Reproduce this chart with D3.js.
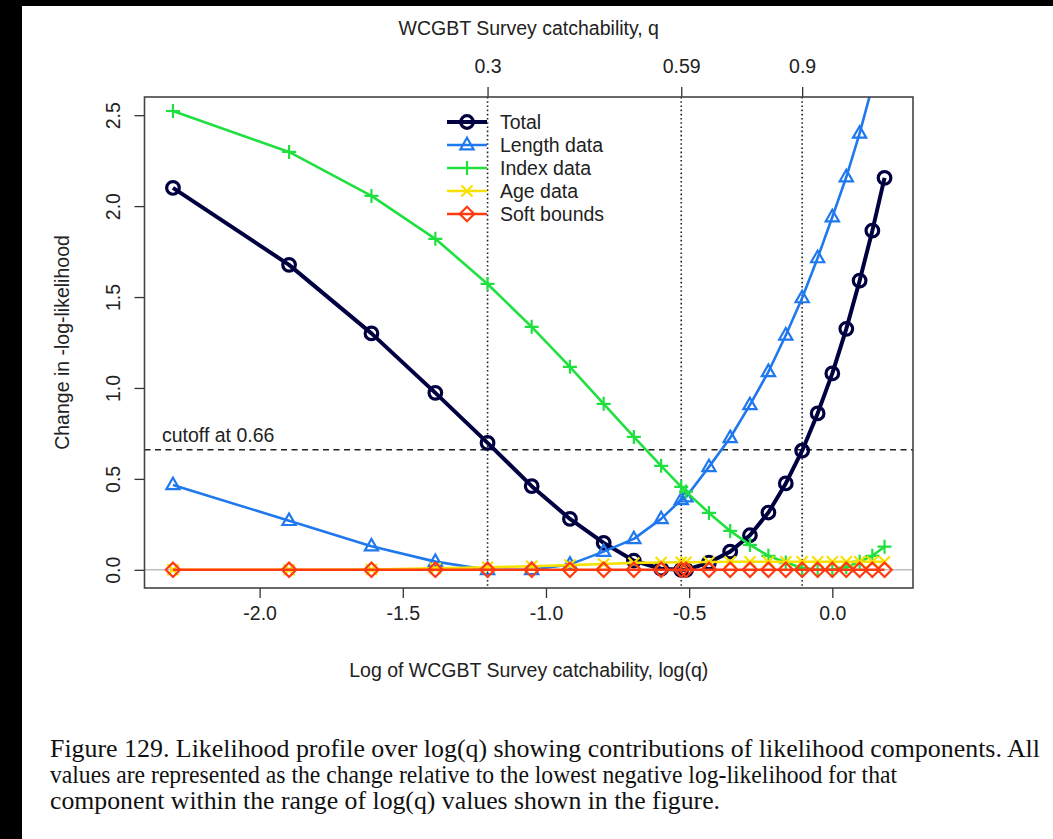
<!DOCTYPE html>
<html>
<head>
<meta charset="utf-8">
<script src="https://cdn.jsdelivr.net/npm/d3@7"></script>
<style>
  body { margin: 0; background: #fff; }
  svg { display: block; }
</style>
</head>
<body>
<svg id="chart" width="1053" height="839"></svg>
<script>
// Profile grid of survey catchability q
const qValues = [0.1, 0.15, 0.2, 0.25, 0.3, 0.35, 0.4, 0.45, 0.5, 0.55, 0.59, 0.6,
                 0.65, 0.7, 0.75, 0.8, 0.85, 0.9, 0.95, 1.0, 1.05, 1.1, 1.15, 1.2];

// Change in -log-likelihood for each component
const totalLike  = [2.10, 1.677, 1.30, 0.973, 0.698, 0.46, 0.28, 0.148, 0.05, 0.006, 0.0, 0.0,
                    0.04, 0.10, 0.19, 0.315, 0.475, 0.655, 0.86, 1.08, 1.325, 1.59, 1.865, 2.155];
const lengthLike = [0.467, 0.27, 0.13, 0.045, 0.0, 0.0, 0.03, 0.10, 0.17, 0.28, 0.385, 0.40,
                    0.566, 0.726, 0.907, 1.089, 1.29, 1.495, 1.715, 1.94, 2.16, 2.40, 2.66, 2.93];
const indexLike  = [2.523, 2.298, 2.056, 1.82, 1.572, 1.336, 1.116, 0.913, 0.731, 0.572, 0.456, 0.43,
                    0.313, 0.214, 0.137, 0.077, 0.04, 0.01, 0.0, 0.0, 0.015, 0.045, 0.077, 0.127];
const ageLike    = [0.0, 0.0, 0.002, 0.008, 0.014, 0.02, 0.026, 0.032, 0.038, 0.04, 0.042, 0.042,
                    0.043, 0.044, 0.044, 0.044, 0.044, 0.044, 0.044, 0.044, 0.044, 0.044, 0.044, 0.044];
const softLike   = [0, 0, 0, 0, 0, 0, 0, 0, 0, 0, 0, 0,
                    0, 0, 0, 0, 0, 0, 0, 0, 0, 0, 0, 0];

const seriesNames  = ["Total", "Length data", "Index data", "Age data", "Soft bounds"];
const seriesColors = ["#000040", "#1f78ee", "#20e040", "#f8e000", "#ff3a10"];
const seriesShapes = ["circle", "triangle", "plus", "cross", "diamond"];
const seriesValues = [totalLike, lengthLike, indexLike, ageLike, softLike];

const xTicks = [-2.0, -1.5, -1.0, -0.5, 0.0];
const yTicks = [0.0, 0.5, 1.0, 1.5, 2.0, 2.5];
const qTicks = [0.3, 0.59, 0.9];
const cutoff = 0.66;

const captionLines = [
  "Figure 129. Likelihood profile over log(q) showing contributions of likelihood components. All",
  "values are represented as the change relative to the lowest negative log-likelihood for that",
  "component within the range of log(q) values shown in the figure."
];

const svg = d3.select("#chart");
const W = 1053, H = 839;
const plot = { left: 144.5, right: 913, top: 97, bottom: 588 };
const sans = "'Liberation Sans', Arial, Helvetica, sans-serif";
const fs = 19.5;

svg.append("rect").attr("width", W).attr("height", H).attr("fill", "#fff");
// dark frame edges of the page
svg.append("rect").attr("x", 0).attr("y", 0).attr("width", W).attr("height", 6).attr("fill", "#000");
svg.append("rect").attr("x", 0).attr("y", 0).attr("width", 22).attr("height", H).attr("fill", "#000");

const logQ = qValues.map(q => Math.log(q));
const xMin = d3.min(logQ), xMax = d3.max(logQ);
const pad = (xMax - xMin) * 0.04;
const x = d3.scaleLinear().domain([xMin - pad, xMax + pad]).range([plot.left, plot.right]);
const y = d3.scaleLinear().domain([-0.1, 2.6]).range([plot.bottom, plot.top]);

svg.append("defs").append("clipPath").attr("id", "plotClip")
  .append("rect")
  .attr("x", plot.left).attr("y", plot.top)
  .attr("width", plot.right - plot.left).attr("height", plot.bottom - plot.top);

// bottom axis
const xAxis = d3.axisBottom(x).tickValues(xTicks).tickFormat(d3.format(".1f")).tickSize(10).tickPadding(8);
const gx = svg.append("g").attr("transform", `translate(0,${plot.bottom})`).call(xAxis);
gx.select(".domain").remove();
gx.selectAll("line").attr("stroke", "#333").attr("stroke-width", 1.3);
gx.selectAll("text").attr("font-family", sans).attr("font-size", fs).attr("fill", "#222")
  .text(d => d3.format(".1f")(d).replace("\u2212", "-"));

// left axis (labels parallel to the axis)
const yAxis = d3.axisLeft(y).tickValues(yTicks).tickFormat(d3.format(".1f")).tickSize(10).tickPadding(8);
const gy = svg.append("g").attr("transform", `translate(${plot.left},0)`).call(yAxis);
gy.select(".domain").remove();
gy.selectAll("line").attr("stroke", "#333").attr("stroke-width", 1.3);
gy.selectAll("text")
  .attr("font-family", sans).attr("font-size", fs).attr("fill", "#222")
  .attr("text-anchor", "middle")
  .attr("x", 0).attr("y", 0).attr("dy", 0)
  .attr("transform", "translate(-32,0) rotate(-90)")
  .attr("dominant-baseline", "central");

// top axis in q units
const xTop = d3.axisTop(x).tickValues(qTicks.map(q => Math.log(q))).tickSize(10).tickPadding(14)
  .tickFormat((d, i) => String(qTicks[i]));
const gt = svg.append("g").attr("transform", `translate(0,${plot.top})`).call(xTop);
gt.select(".domain").remove();
gt.selectAll("line").attr("stroke", "#333").attr("stroke-width", 1.3);
gt.selectAll("text").attr("font-family", sans).attr("font-size", fs).attr("fill", "#222");

// axis titles
svg.append("text").attr("x", (plot.left + plot.right) / 2).attr("y", 35)
  .attr("text-anchor", "middle").attr("font-family", sans).attr("font-size", fs).attr("fill", "#222")
  .text("WCGBT Survey catchability, q");
svg.append("text").attr("x", (plot.left + plot.right) / 2).attr("y", 677)
  .attr("text-anchor", "middle").attr("font-family", sans).attr("font-size", fs).attr("fill", "#222")
  .text("Log of WCGBT Survey catchability, log(q)");
svg.append("text")
  .attr("transform", `translate(69,${(plot.top + plot.bottom) / 2}) rotate(-90)`)
  .attr("text-anchor", "middle").attr("font-family", sans).attr("font-size", fs).attr("fill", "#222")
  .text("Change in -log-likelihood");

const inner = svg.append("g").attr("clip-path", "url(#plotClip)");

// zero reference line
inner.append("line")
  .attr("x1", plot.left).attr("x2", plot.right)
  .attr("y1", y(0)).attr("y2", y(0))
  .attr("stroke", "#bdbdbd").attr("stroke-width", 1.5);

// vertical reference lines at selected q
inner.selectAll("line.vref").data(qTicks).join("line").attr("class", "vref")
  .attr("x1", d => x(Math.log(d))).attr("x2", d => x(Math.log(d)))
  .attr("y1", plot.top).attr("y2", plot.bottom)
  .attr("stroke", "#222").attr("stroke-width", 1.6).attr("stroke-dasharray", "1.6,2.6");

// cutoff line
inner.append("line")
  .attr("x1", plot.left).attr("x2", plot.right)
  .attr("y1", y(cutoff)).attr("y2", y(cutoff))
  .attr("stroke", "#222").attr("stroke-width", 1.6).attr("stroke-dasharray", "6,4.5");
svg.append("text").attr("x", 162).attr("y", y(cutoff) - 8)
  .attr("font-family", sans).attr("font-size", fs).attr("fill", "#222")
  .text("cutoff at " + cutoff);

// marker path definitions (relative to the point)
function markerPath(shape) {
  switch (shape) {
    case "circle":   return "M6.3,0A6.3,6.3 0 1,1 -6.3,0A6.3,6.3 0 1,1 6.3,0Z";
    case "triangle": return "M0,-7.2L6.6,4.3L-6.6,4.3Z";
    case "plus":     return "M-7,0H7M0,-7V7";
    case "cross":    return "M-5.5,-5.5L5.5,5.5M-5.5,5.5L5.5,-5.5";
    case "diamond":  return "M0,-7.2L7.2,0L0,7.2L-7.2,0Z";
  }
}

const line = d3.line().x(d => x(d[0])).y(d => y(d[1]));

seriesValues.forEach((vals, s) => {
  const pts = logQ.map((lq, i) => [lq, vals[i]]);
  const lw = s === 0 ? 4 : 2.6;
  const g = inner.append("g");
  g.append("path").datum(pts).attr("d", line)
    .attr("fill", "none").attr("stroke", seriesColors[s]).attr("stroke-width", lw)
    .attr("stroke-linejoin", "round");
  g.selectAll("path.pt").data(pts).join("path").attr("class", "pt")
    .attr("transform", d => `translate(${x(d[0])},${y(d[1])})`)
    .attr("d", markerPath(seriesShapes[s]))
    .attr("fill", "none").attr("stroke", seriesColors[s])
    .attr("stroke-width", s === 0 ? 3.2 : 2.2);
});

// plot frame
svg.append("rect")
  .attr("x", plot.left).attr("y", plot.top)
  .attr("width", plot.right - plot.left).attr("height", plot.bottom - plot.top)
  .attr("fill", "none").attr("stroke", "#444").attr("stroke-width", 1.6);

// legend
const legend = svg.append("g");
seriesNames.forEach((name, s) => {
  const cy = 122 + s * 23;
  legend.append("line").attr("x1", 447).attr("x2", 487).attr("y1", cy).attr("y2", cy)
    .attr("stroke", seriesColors[s]).attr("stroke-width", s === 0 ? 4 : 2.6);
  legend.append("path").attr("transform", `translate(467,${cy})`)
    .attr("d", markerPath(seriesShapes[s]))
    .attr("fill", "none").attr("stroke", seriesColors[s]).attr("stroke-width", s === 0 ? 3.2 : 2.2);
  legend.append("text").attr("x", 500).attr("y", cy).attr("dy", "0.35em")
    .attr("font-family", sans).attr("font-size", fs).attr("fill", "#222").text(name);
});

// caption
const captionWidths = [990, 847, 670];
captionLines.forEach((t, i) => {
  svg.append("text").attr("x", 50).attr("y", 757 + i * 26)
    .attr("font-family", "'Liberation Serif', 'Times New Roman', serif")
    .attr("font-size", 25).attr("fill", "#111")
    .attr("textLength", captionWidths[i]).attr("lengthAdjust", "spacingAndGlyphs")
    .text(t);
});
</script>
</body>
</html>
